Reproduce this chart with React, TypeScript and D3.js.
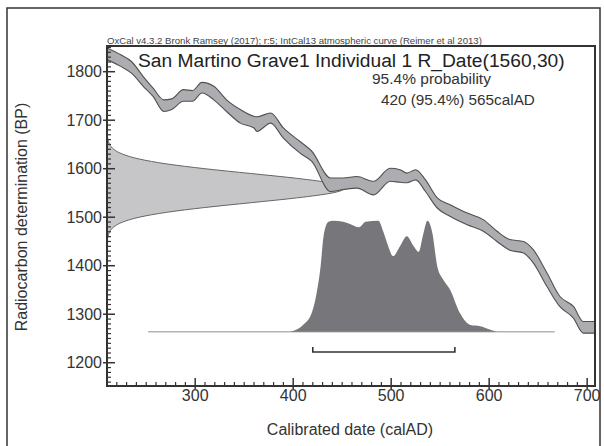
import React from 'react';
import * as d3 from 'd3';

const headerText = 'OxCal v4.3.2 Bronk Ramsey (2017); r:5; IntCal13 atmospheric curve (Reimer et al 2013)';
const titleText = 'San Martino Grave1 Individual 1 R_Date(1560,30)';
const probText = '95.4% probability';
const rangeText = '420 (95.4%) 565calAD';

// calibration curve band (calAD, upper / lower BP)
const calYears = [210, 224, 235, 247, 257, 268, 276, 288, 297, 307, 319, 332, 346, 360, 363, 377, 390, 407, 419, 438, 451, 465, 482, 499, 509, 516, 525, 535, 547, 560, 577, 594, 608, 621, 635, 645, 659, 672, 686, 696, 708];
const calUpper = [1849, 1835, 1821, 1790, 1766, 1742, 1744, 1763, 1761, 1778, 1770, 1742, 1722, 1708, 1707, 1715, 1684, 1656, 1636, 1581, 1581, 1584, 1574, 1601, 1598, 1591, 1598, 1577, 1540, 1526, 1509, 1495, 1471, 1454, 1450, 1433, 1385, 1337, 1316, 1285, 1285];
const calLower = [1825, 1811, 1797, 1770, 1749, 1718, 1722, 1739, 1739, 1756, 1742, 1718, 1694, 1684, 1677, 1694, 1663, 1632, 1615, 1553, 1557, 1560, 1546, 1574, 1572, 1571, 1577, 1553, 1519, 1502, 1485, 1471, 1450, 1432, 1426, 1406, 1357, 1316, 1292, 1261, 1261];

// radiocarbon date likelihood (BP, relative density)
const likeBP = [1440, 1450, 1460, 1470, 1480, 1490, 1500, 1510, 1520, 1530, 1540, 1550, 1560, 1570, 1580, 1590, 1600, 1610, 1620, 1630, 1640, 1650, 1660, 1670, 1680];
const likeDensity = [0.0003, 0.0012, 0.0039, 0.0111, 0.0286, 0.0657, 0.1353, 0.2494, 0.4111, 0.6065, 0.8007, 0.946, 1, 0.946, 0.8007, 0.6065, 0.4111, 0.2494, 0.1353, 0.0657, 0.0286, 0.0111, 0.0039, 0.0012, 0.0003];

// calibrated posterior (calAD, relative probability)
const postYears = [397, 410, 419, 424, 428, 431, 436, 441, 451, 458, 467, 474, 487, 492, 497, 502, 509, 516, 523, 528, 533, 537, 542, 547, 553, 560, 570, 581, 591, 599, 608];
const postProb = [0, 0.06, 0.17, 0.35, 0.59, 0.86, 0.99, 1, 0.99, 0.97, 0.94, 0.99, 1, 0.9, 0.77, 0.68, 0.77, 0.86, 0.77, 0.72, 0.89, 1, 0.89, 0.59, 0.47, 0.38, 0.17, 0.06, 0.05, 0.025, 0];

const baseYears = [252, 667];
const rangeYears = [420, 565];

const xTicks = [300, 400, 500, 600, 700];
const yTicks = [1200, 1300, 1400, 1500, 1600, 1700, 1800];

const W = 604;
const H = 446;
const L = 107, R = 595, T = 46, B = 386;
const FONT = '"Liberation Sans", Arial, sans-serif';

export default function App() {
  const x = d3.scaleLinear().domain([210, 708]).range([L, R]);
  const y = d3.scaleLinear().domain([1152, 1853]).range([B, T]);
  const likeW = d3.scaleLinear().domain([0, 1]).range([L, L + 238]);
  const postBase = 1264;
  const postH = d3.scaleLinear().domain([0, 1]).range([y(postBase), y(postBase) - 111]);
  const bracketBP = 1222;

  const cal = calYears.map((yr, i) => ({ yr, hi: calUpper[i], lo: calLower[i] }));
  const bandArea = d3.area<any>().x(d => x(d.yr)).y0(d => y(d.lo)).y1(d => y(d.hi)).curve(d3.curveMonotoneX);
  const upLine = d3.line<any>().x(d => x(d.yr)).y(d => y(d.hi)).curve(d3.curveMonotoneX);
  const loLine = d3.line<any>().x(d => x(d.yr)).y(d => y(d.lo)).curve(d3.curveMonotoneX);

  const like = likeBP.map((bp, i) => ({ bp, d: likeDensity[i] }));
  const likeArea = d3.area<any>().y(d => y(d.bp)).x0(L).x1(d => likeW(d.d)).curve(d3.curveMonotoneY);
  const likeLine = d3.line<any>().y(d => y(d.bp)).x(d => likeW(d.d)).curve(d3.curveMonotoneY);

  const post = postYears.map((yr, i) => ({ yr, p: postProb[i] }));
  const postArea = d3.area<any>().x(d => x(d.yr)).y0(postH(0)).y1(d => postH(d.p)).curve(d3.curveMonotoneX);

  const xMinor = d3.range(220, 708, 10).filter(v => v % 100 !== 0);
  const yMinor = d3.range(1160, 1853, 10).filter(v => v % 100 !== 0);

  const axisCol = '#333';

  return (
    <svg width={W} height={H} style={{ position: 'absolute', left: 0, top: 0, background: '#fff' }} fontFamily={FONT}>
      <rect x={0} y={0} width={W} height={H} fill="#fff" />
      <rect x={7} y={8} width={593} height={460} fill="none" stroke="#333" strokeWidth={1.5} />
      <defs>
        <clipPath id="plot">
          <rect x={L} y={T} width={R - L} height={B - T} />
        </clipPath>
      </defs>

      <text x={L} y={44} fontSize={9.6} fill="#444">{headerText}</text>

      <g clipPath="url(#plot)">
        <path d={likeArea(like) || ''} fill="#c6c6c9" />
        <path d={likeLine(like) || ''} fill="none" stroke="#666" strokeWidth={1} />

        <path d={bandArea(cal) || ''} fill="#adadb1" />
        <path d={upLine(cal) || ''} fill="none" stroke="#505050" strokeWidth={1.1} />
        <path d={loLine(cal) || ''} fill="none" stroke="#505050" strokeWidth={1.1} />

        <line x1={x(baseYears[0])} x2={x(baseYears[1])} y1={y(postBase)} y2={y(postBase)} stroke="#b4b4b6" strokeWidth={1.5} />
        <path d={postArea(post) || ''} fill="#77777b" />

        <path
          d={`M${x(rangeYears[0])},${y(bracketBP) - 5}V${y(bracketBP)}H${x(rangeYears[1])}V${y(bracketBP) - 5}`}
          fill="none" stroke="#333" strokeWidth={1.6}
        />
      </g>

      {/* frame */}
      <rect x={L} y={T} width={R - L} height={B - T} fill="none" stroke={axisCol} strokeWidth={2} />

      {/* x ticks */}
      {xMinor.map(v => (
        <line key={'xm' + v} x1={x(v)} x2={x(v)} y1={B} y2={B - 4} stroke={axisCol} strokeWidth={1.2} />
      ))}
      {xTicks.map(v => (
        <g key={'x' + v}>
          <line x1={x(v)} x2={x(v)} y1={B + 3} y2={B - 8} stroke={axisCol} strokeWidth={1.5} />
          <text x={x(v)} y={B + 15} fontSize={16} fill="#333" textAnchor="middle">{v}</text>
        </g>
      ))}

      {/* y ticks */}
      {yMinor.map(v => (
        <line key={'ym' + v} x1={L} x2={L + 4} y1={y(v)} y2={y(v)} stroke={axisCol} strokeWidth={1.2} />
      ))}
      {yTicks.map(v => (
        <g key={'y' + v}>
          <line x1={L - 4} x2={L + 8} y1={y(v)} y2={y(v)} stroke={axisCol} strokeWidth={1.5} />
          <text x={L - 5} y={y(v) + 5.5} fontSize={16} fill="#333" textAnchor="end">{v}</text>
        </g>
      ))}

      <text x={350} y={435} fontSize={16} fill="#333" textAnchor="middle">Calibrated date (calAD)</text>
      <text transform="translate(27,217) rotate(-90)" fontSize={16} fill="#333" textAnchor="middle">Radiocarbon determination (BP)</text>

      <text x={138} y={67} fontSize={19.2} fill="#222">{titleText}</text>
      <text x={372} y={84} fontSize={15.5} fill="#333">{probText}</text>
      <text x={381} y={105} fontSize={15.3} fill="#333">{rangeText}</text>
    </svg>
  );
}
